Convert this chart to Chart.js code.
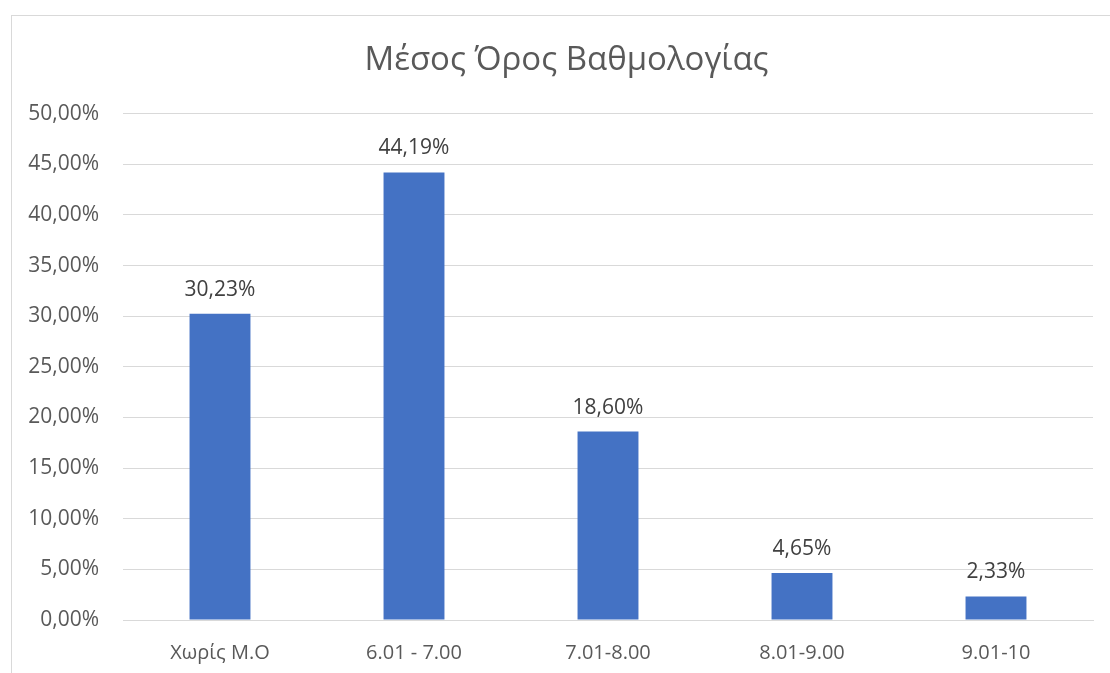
<!DOCTYPE html>
<html>
<head>
<meta charset="utf-8">
<script src="https://cdn.jsdelivr.net/npm/chart.js@4"></script>
<style>
  html, body { margin: 0; padding: 0; background: #fff; }
  #wrap { position: relative; width: 1110px; height: 673px; overflow: hidden; }
  #frame { position: absolute; left: 11px; top: 15px; width: 1200px; height: 800px; border: 1px solid #d9d9d9; }
  #myChart { position: absolute; left: 0; top: 0; }
</style>
</head>
<body>
<div id="wrap">
  <div id="frame"></div>
  <canvas id="myChart" width="1110" height="673"></canvas>
</div>
<script>
var categories = ['Χωρίς Μ.Ο', '6.01 - 7.00', '7.01-8.00', '8.01-9.00', '9.01-10'];
var percentages = [30.23, 44.19, 18.60, 4.65, 2.33];
var yTicks = [0, 5, 10, 15, 20, 25, 30, 35, 40, 45, 50];

function pct(v) {
    return v.toFixed(2).replace('.', ',') + '%';
}

// labels above each bar
var barLabels = {
    id: 'barLabels',
    afterLayout: function (chart) {
        // nudge the title box so the text sits centred like the original
        if (chart.titleBlock) chart.titleBlock.left += 40;
    },
    afterDatasetsDraw: function (chart) {
        var ctx = chart.ctx;
        var meta = chart.getDatasetMeta(0);
        ctx.save();
        ctx.font = '21px "Open Sans"';
        ctx.fillStyle = '#404040';
        ctx.textAlign = 'center';
        ctx.textBaseline = 'alphabetic';
        meta.data.forEach(function (bar, i) {
            ctx.fillText(pct(percentages[i]), bar.x, bar.y - 18);
        });
        ctx.restore();
    }
};

Chart.defaults.font.family = '"Open Sans"';
Chart.defaults.color = '#595959';

var ctx = document.getElementById('myChart').getContext('2d');
var myChart = new Chart(ctx, {
    type: 'bar',
    data: {
        labels: categories,
        datasets: [{
            label: 'Μέσος Όρος Βαθμολογίας',
            data: percentages,
            backgroundColor: '#4472c4',
            borderWidth: 0,
            barPercentage: 0.314,
            categoryPercentage: 1
        }]
    },
    options: {
        responsive: false,
        animation: false,
        layout: { padding: { left: 0, right: 17, top: 41, bottom: 0 } },
        plugins: {
            legend: { display: false },
            tooltip: { enabled: false },
            title: {
                display: true,
                text: 'Μέσος Όρος Βαθμολογίας',
                color: '#595959',
                font: { size: 33, weight: 'normal' },
                padding: { top: 0, bottom: 33 }
            }
        },
        scales: {
            x: {
                grid: { display: false },
                border: { display: true, color: '#d9d9d9' },
                ticks: { font: { size: 20 }, padding: 13, color: '#595959' },
                afterFit: function (scale) { scale.height = 53; }
            },
            y: {
                min: 0,
                max: 50,
                afterBuildTicks: function (scale) {
                    scale.ticks = yTicks.map(function (v) { return { value: v }; });
                },
                grid: { color: '#d9d9d9', drawTicks: false },
                border: { display: false },
                ticks: {
                    font: { size: 21 },
                    padding: 24,
                    color: '#595959',
                    callback: function (v) { return pct(v); }
                },
                afterFit: function (scale) { scale.width = 123; }
            }
        }
    },
    plugins: [barLabels]
});
</script>
</body>
</html>
